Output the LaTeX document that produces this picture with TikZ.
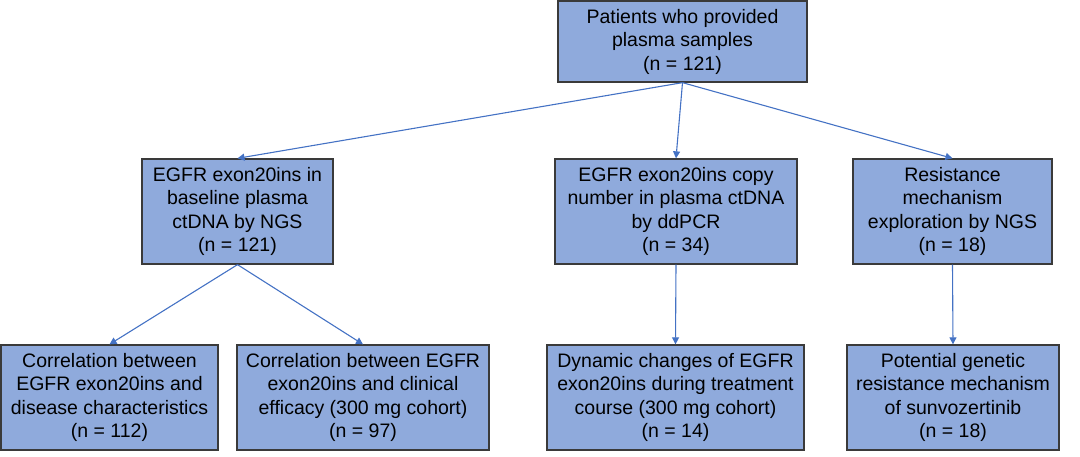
\documentclass[tikz,border=0pt]{standalone}
\usepackage{fontspec}
\setmainfont{Liberation Sans}
\usetikzlibrary{arrows.meta}
\definecolor{boxfill}{HTML}{8FAADC}
\definecolor{boxline}{HTML}{3A3A3A}
\definecolor{arrowcol}{HTML}{4472C4}
\begin{document}
\begin{tikzpicture}[x=1pt,y=-1pt,
  box/.style={draw=boxline,line width=1.3pt,fill=boxfill,align=center,inner sep=0pt,
    font=\fontsize{19.5}{23.5}\selectfont,text=black,minimum height=105pt},
  conn/.style={draw=arrowcol,line width=1.1pt,-{Triangle[length=7pt,width=7pt]}}]
\useasboundingbox (0,0) rectangle (1080,457);
\node[box,minimum width=249pt,minimum height=81pt] (top) at (682.5,41.5) {Patients who provided\\plasma samples\\(n = 121)};
\node[box,minimum width=191pt] (lm) at (237.5,211.5) {EGFR exon20ins in\\baseline plasma\\ctDNA by NGS\\(n = 121)};
\node[box,minimum width=242pt] (mm) at (676,211.5) {EGFR exon20ins copy\\number in plasma ctDNA\\by ddPCR\\(n = 34)};
\node[box,minimum width=199pt] (rm) at (952.5,211.5) {Resistance\\mechanism\\exploration by NGS\\(n = 18)};
\node[box,minimum width=217pt] (bl) at (109.5,397.5) {Correlation between\\EGFR exon20ins and\\disease characteristics\\(n = 112)};
\node[box,minimum width=252pt] (bml) at (363,397.5) {Correlation between EGFR\\exon20ins and clinical\\efficacy (300 mg cohort)\\(n = 97)};
\node[box,minimum width=257pt] (bmm) at (675.5,397.5) {Dynamic changes of EGFR\\exon20ins during treatment\\course (300 mg cohort)\\(n = 14)};
\node[box,minimum width=212pt] (br) at (953,397.5) {Potential genetic\\resistance mechanism\\of sunvozertinib\\(n = 18)};
\draw[conn] (top.south) -- (lm.north);
\draw[conn] (top.south) -- (mm.north);
\draw[conn] (top.south) -- (rm.north);
\draw[conn] (lm.south) -- (bl.north);
\draw[conn] (lm.south) -- (bml.north);
\draw[conn] (mm.south) -- (bmm.north);
\draw[conn] (rm.south) -- (br.north);
\end{tikzpicture}
\end{document}
